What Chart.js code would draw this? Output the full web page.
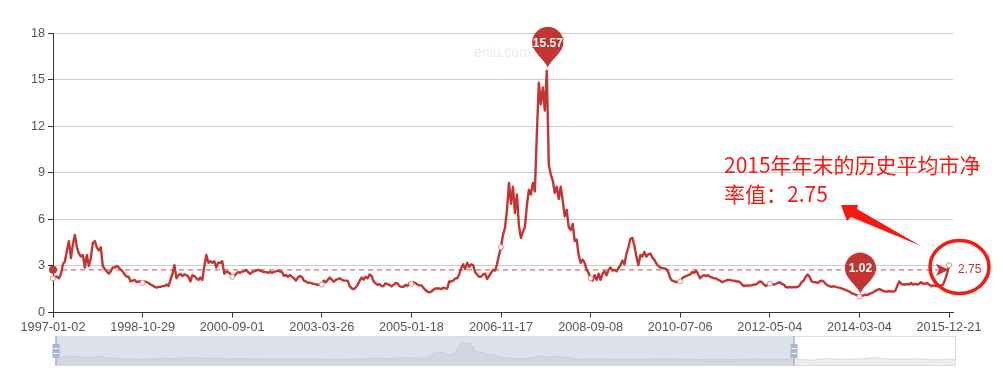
<!DOCTYPE html>
<html>
<head>
<meta charset="utf-8">
<style>
  body { margin: 0; background: #fff; }
  #wrap { position: relative; width: 1003px; height: 376px; overflow: hidden; }
  canvas { position: absolute; }
  #main { left: 0; top: 0; }
  #mini { left: 50px; top: 332px; }
</style>
<script src="https://cdn.jsdelivr.net/npm/chart.js@4/dist/chart.umd.js"></script>
</head>
<body>
<div id="wrap">
  <canvas id="main" width="1003" height="376"></canvas>
  <canvas id="mini" width="910" height="40"></canvas>
</div>
<script>
const tickLabels = ['1997-01-02', '1998-10-29', '2000-09-01', '2003-03-26', '2005-01-18', '2006-11-17',
  '2008-09-08', '2010-07-06', '2012-05-04', '2014-03-04', '2015-12-21'];
const yTicks = [0, 3, 6, 9, 12, 15, 18];

// price-to-book readings, one array per labelled axis step
const pbPart1 = [2.2,2.3,2.3,2.2,2.5,3.1,3.3,4.0,4.6,3.5,4.4,5.0,4.2,3.8,3.6,3.7,2.9,3.7,3.0,3.5,4.5,4.6,4.2,4.0,4.2,3.0,2.8,2.65,2.5,2.65,2.9,2.9,3.0,2.9,2.75,2.65,2.45,2.3,2.3,2.0,2.05,2.1,1.95,2.0,2.0];
const pbPart2 = [1.9,2.0,1.95,1.9,1.8,1.75,1.65,1.6,1.65,1.65,1.7,1.7,1.8,1.7,2.1,2.5,3.05,2.2,2.4,2.5,2.35,2.45,2.4,2.3,2.0,2.4,2.35,2.2,2.1,2.25,2.1,3.0,3.7,3.2,3.3,3.2,3.3,2.9,3.2,3.2,3.3,2.5,2.65,2.6,2.5];
const pbPart3 = [2.3,2.35,2.5,2.6,2.55,2.65,2.65,2.75,2.6,2.5,2.6,2.65,2.7,2.75,2.7,2.65,2.6,2.6,2.55,2.62,2.55,2.62,2.65,2.7,2.65,2.6,2.35,2.42,2.3,2.42,2.3,2.2,2.05,2.25,2.35,2.3,2.05,2.0,1.92,1.92,1.88,1.84,1.82,1.78,1.8];
const pbPart4 = [1.8,2.05,1.95,2.1,2.25,2.12,1.98,2.1,2.15,2.2,2.12,2.05,2.05,2.05,1.7,1.55,1.5,1.6,1.78,2.05,2.25,2.12,2.3,2.2,2.45,2.35,2.0,1.88,1.78,1.82,1.7,1.7,1.88,1.82,1.78,1.68,1.78,1.88,1.88,1.7,1.65,1.65,1.78,1.7,1.88];
const pbPart5 = [1.85,1.95,1.9,1.8,1.75,1.75,1.6,1.45,1.35,1.3,1.35,1.45,1.55,1.55,1.55,1.5,1.6,1.55,1.55,2.0,2.0,2.05,2.2,2.2,2.45,2.85,3.1,2.8,3.2,2.95,3.1,3.05,2.6,2.45,2.3,2.3,2.45,2.5,2.15,2.35,2.55,2.75,2.7,3.1,3.7];
const pbPart6 = [4.2,5.0,5.45,6.6,8.35,7.0,8.1,6.4,7.6,5.6,4.8,5.2,5.5,6.9,7.9,7.6,8.35,7.8,11.5,14.8,13.4,14.5,13.0,15.57,9.5,8.9,8.5,7.7,8.1,7.3,8.1,7.2,6.2,6.6,5.5,5.3,5.7,4.6,4.7,3.7,3.2,3.4,3.2,2.75,2.55];
const pbPart7 = [2.2,2.05,2.4,2.1,2.5,2.1,2.5,2.65,2.4,2.75,2.9,2.7,2.75,2.65,2.85,3.05,3.35,3.1,3.8,4.2,4.75,4.8,4.3,3.6,3.05,3.7,3.6,3.9,3.6,3.75,3.8,3.55,3.4,3.15,3.0,2.9,2.85,2.85,2.8,2.6,2.2,2.05,2.0,1.95,2.0];
const pbPart8 = [2.0,2.2,2.3,2.35,2.4,2.45,2.6,2.55,2.7,2.45,2.2,2.35,2.4,2.35,2.4,2.3,2.25,2.2,2.2,2.1,2.05,1.95,2.0,2.05,2.1,2.1,2.05,2.05,2.0,2.0,1.95,1.8,1.7,1.75,1.72,1.75,1.75,1.8,1.8,1.9,2.0,1.95,1.8,1.7,1.8];
const pbPart9 = [1.85,1.85,1.8,1.85,1.9,1.95,1.85,1.8,1.65,1.6,1.65,1.6,1.65,1.62,1.65,1.75,1.95,2.05,2.3,2.45,2.3,2.0,1.95,1.95,1.9,2.0,2.05,2.0,1.85,1.75,1.7,1.65,1.7,1.65,1.62,1.6,1.55,1.5,1.45,1.4,1.35,1.25,1.2,1.15,1.1];
const pbPart10 = [1.02,1.05,1.1,1.15,1.12,1.2,1.25,1.3,1.4,1.45,1.5,1.45,1.4,1.35,1.35,1.38,1.35,1.35,1.4,1.7,2.0,1.85,1.8,1.8,1.85,1.8,1.9,1.8,1.85,1.8,1.85,1.95,1.85,1.85,1.9,1.8,1.7,1.75,1.72,1.7,1.7,1.75,1.8,2.1,2.5,3.05];
const avgPb = 2.75;

// overview strip under the chart: height of the shaded area, covers a longer period than the main plot
const overviewValues = [5.5,8,9.5,9.8,9.5,9,8.5,8.7,9.5,10,8,7.8,7.5,7.3,7,7,6.8,6.9,7,7.2,7.5,7.6,7.5,7.4,7.3,8,8.7,8.4,8,7.8,7.5,7.5,7.5,7.4,7.3,7.4,7.5,7.4,7.3,7.3,7.3,7.1,7,7,7,7,7,7,7,7.1,7.3,7.1,7,6.9,6.8,6.8,6.8,6.9,7,7.1,7.3,7.5,7.8,7.6,7.5,7.4,7.3,8,8.7,8.5,8,7.8,7.6,10,13,14.3,12.5,10.5,13,22,22.7,23,15,13.7,12.5,11.5,10.5,9.2,8,7.6,7.4,7.4,7.5,8.2,9.7,10.3,9.3,9.4,9.5,9.1,8.7,7.5,6.7,6.9,7,7.1,7.2,7.1,7,6.9,6.9,6.9,6.9,6.9,6.8,6.9,7,7.1,7.2,7.3,7.3,7.1,7,6.8,6.7,6.6,6.5,6.4,6.4,6.4,6.4,6.4,6.4,6.5,6.6,6.8,7,7,6.9,6.9,6.9,6.8,6.7,7,7.3,6.9,6.6,6.2,6,6.8,7.4,7.3,7.2,6.9,6.5,6.8,7,7.2,7.4,8,8.8,8,7.2,7.1,7,7,7,7.1,7.3,7.1,7,6.6,6.3,6.4,6.5,6.5,6.5];

const pbValues = [].concat(pbPart1, pbPart2, pbPart3, pbPart4, pbPart5, pbPart6, pbPart7, pbPart8, pbPart9, pbPart10);
const tickStep = 45;
const categories = pbValues.concat([null, null]).map((v, i) => i);
const RED = '#c23531';
const uiFont = '"Liberation Sans", Arial, sans-serif';

function drawPin(ctx, x, y, text) {
  const r = 15.5;
  const cy = y - 28.5;
  const tip = y - 3;
  ctx.save();
  ctx.fillStyle = RED;
  ctx.beginPath();
  ctx.arc(x, cy, r, Math.PI * 0.85, Math.PI * 0.15, false);
  ctx.bezierCurveTo(x + 9, cy + 15, x + 2, tip - 6, x, tip);
  ctx.bezierCurveTo(x - 2, tip - 6, x - 9, cy + 15, x - r * 0.89, cy + r * 0.45);
  ctx.fill();
  ctx.font = 'bold 12px ' + uiFont;
  ctx.textAlign = 'center';
  ctx.textBaseline = 'middle';
  ctx.lineWidth = 2;
  ctx.strokeStyle = RED;
  ctx.strokeText(text, x, cy + 1);
  ctx.fillStyle = '#fff';
  ctx.fillText(text, x, cy + 1);
  ctx.restore();
}

// average line end decorations, max / min pins, watermark
const markPlugin = {
  id: 'marks',
  afterDatasetsDraw(chart) {
    const { ctx, scales: { x, y } } = chart;
    const ya = y.getPixelForValue(avgPb);
    ctx.save();
    ctx.fillStyle = RED;
    ctx.beginPath();
    ctx.arc(x.getPixelForValue(0), ya, 4, 0, Math.PI * 2);
    ctx.fill();
    const ex = x.getPixelForValue(450);
    ctx.beginPath();
    ctx.moveTo(ex, ya);
    ctx.lineTo(ex - 13, ya + 6);
    ctx.lineTo(ex - 10, ya);
    ctx.lineTo(ex - 13, ya - 6);
    ctx.closePath();
    ctx.fill();
    ctx.font = '12px ' + uiFont;
    ctx.textBaseline = 'middle';
    ctx.fillText(avgPb.toFixed(2), ex + 9, ya);
    ctx.restore();

    const max = Math.max(...pbValues);
    const min = Math.min(...pbValues);
    const iMax = pbValues.indexOf(max);
    const iMin = pbValues.indexOf(min);
    drawPin(ctx, x.getPixelForValue(iMax) + 1, y.getPixelForValue(max), max.toFixed(2));
    drawPin(ctx, x.getPixelForValue(iMin) + 1, y.getPixelForValue(min), min.toFixed(2));

    ctx.save();
    ctx.fillStyle = 'rgba(0,0,0,0.09)';
    ctx.font = '14px ' + uiFont;
    ctx.fillText('eniu.com', 474, 57);
    ctx.restore();
  }
};

// hand drawn note on top of the chart
const notePlugin = {
  id: 'note',
  afterDraw(chart) {
    const ctx = chart.ctx;
    ctx.save();
    ctx.fillStyle = '#f5190f';
    ctx.strokeStyle = '#f5190f';
    ctx.font = '21px "Noto Sans CJK SC", sans-serif';
    ctx.textBaseline = 'middle';
    ctx.fillText('2015年年末的历史平均市净', 724, 165);
    ctx.fillText('率值：2.75', 724, 194);
    ctx.beginPath();
    ctx.moveTo(841, 205);
    ctx.lineTo(858, 205);
    ctx.lineTo(857, 209);
    ctx.lineTo(921, 246);
    ctx.lineTo(851, 217);
    ctx.lineTo(847, 221);
    ctx.closePath();
    ctx.fill();
    ctx.lineWidth = 3.5;
    ctx.beginPath();
    ctx.ellipse(959.5, 267, 29.5, 26.5, 0, 0, Math.PI * 2);
    ctx.stroke();
    ctx.restore();
  }
};

new Chart(document.getElementById('main'), {
  type: 'line',
  plugins: [markPlugin, notePlugin],
  data: {
    labels: categories,
    datasets: [{
      label: 'average',
      data: pbValues.map(() => avgPb),
      borderColor: '#e5696b',
      borderWidth: 1.2,
      borderDash: [5, 4],
      pointRadius: 0,
      order: 2
    }, {
      label: 'pb',
      data: pbValues,
      borderColor: RED,
      borderWidth: 2.4,
      borderJoinStyle: 'round',
      tension: 0,
      spanGaps: false,
      pointRadius: pbValues.map((v, i) => (i % tickStep === 0 ? 2.5 : 0)),
      pointBackgroundColor: '#fff',
      pointBorderColor: '#dc8a88',
      pointBorderWidth: 1,
      order: 1
    }]
  },
  options: {
    responsive: false,
    animation: false,
    layout: { padding: { left: 0, right: 50, top: 33, bottom: 0 } },
    plugins: { legend: { display: false }, tooltip: { enabled: false } },
    scales: {
      x: {
        type: 'category',
        afterFit(scale) { scale.height = 63.5; },
        border: { color: '#333', width: 1 },
        grid: { drawOnChartArea: false, tickLength: 5, tickColor: '#333' },
        ticks: {
          autoSkip: false,
          maxRotation: 0,
          color: '#555',
          padding: 2,
          font: { family: uiFont, size: 12.7 },
          callback(value, index) {
            return index % tickStep === 0 ? tickLabels[index / tickStep] : null;
          }
        }
      },
      y: {
        min: yTicks[0],
        max: yTicks[yTicks.length - 1],
        afterFit(scale) { scale.width = 53; },
        border: { color: '#333', width: 1 },
        grid: { color: '#ccc', tickLength: 5, tickColor: '#333' },
        ticks: {
          stepSize: 3,
          color: '#555',
          padding: 3,
          font: { family: uiFont, size: 12.7 }
        }
      }
    }
  }
});

// data zoom look-alike: window fills 0 to 82% of the overview
const windowShare = 0.82;
const zoomPlugin = {
  id: 'zoomWindow',
  afterDatasetsDraw(chart) {
    const { ctx, chartArea: a } = chart;
    const right = a.left + (a.right - a.left) * windowShare;
    const midY = (a.top + a.bottom) / 2;
    ctx.save();
    ctx.fillStyle = 'rgba(167,183,204,0.4)';
    ctx.fillRect(a.left, a.top, right - a.left, a.bottom - a.top);
    ctx.strokeStyle = '#ddd';
    ctx.strokeRect(a.left + 0.5, a.top + 0.5, a.right - a.left - 1, a.bottom - a.top - 1);
    [a.left, right].forEach(px => {
      ctx.fillStyle = '#a7b7cc';
      ctx.fillRect(px - 0.75, a.top, 1.5, a.bottom - a.top);
      ctx.fillRect(px - 3.5, midY - 7, 7, 14);
      ctx.fillStyle = '#fff';
      ctx.fillRect(px - 2.5, midY - 3, 5, 1);
      ctx.fillRect(px - 2.5, midY + 2, 5, 1);
    });
    ctx.restore();
  }
};

new Chart(document.getElementById('mini'), {
  type: 'line',
  plugins: [zoomPlugin],
  data: {
    labels: overviewValues.map((v, i) => i),
    datasets: [{
      data: overviewValues,
      borderColor: 'rgba(47,69,84,0.12)',
      borderWidth: 1,
      backgroundColor: 'rgba(47,69,84,0.1)',
      fill: 'origin',
      pointRadius: 0,
      tension: 0
    }]
  },
  options: {
    responsive: false,
    animation: false,
    layout: { padding: { left: 6, right: 4, top: 4, bottom: 6 } },
    plugins: { legend: { display: false }, tooltip: { enabled: false } },
    scales: {
      x: { display: false },
      y: { display: false, min: 0, max: 30 }
    }
  }
});
</script>
</body>
</html>
